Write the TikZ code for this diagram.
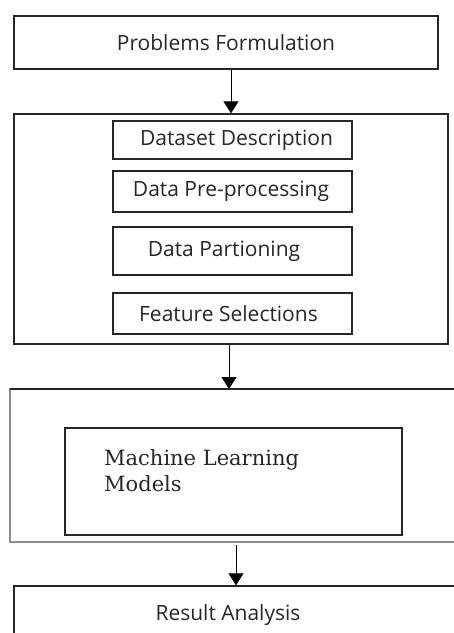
\documentclass[tikz,border=0pt]{standalone}
\usepackage{fontspec}
\setmainfont{Open Sans}
\newfontfamily\mlfont{DejaVu Serif}
\usetikzlibrary{arrows.meta,calc}

\begin{document}
\begin{tikzpicture}[x=1pt,y=-1pt,
		stage/.style={draw=black!85, line width=1.3pt, inner sep=0pt},
		substage/.style={draw=black!85, line width=1.3pt, inner sep=0pt, minimum width=239pt},
		caption/.style={font=\fontsize{21}{25}\selectfont, text=black!85},
		flow/.style={-{Triangle[width=15pt,length=12pt]}, line width=1pt}]
	\useasboundingbox (0,0) rectangle (454,633);
	\clip (0,0) rectangle (454,633);
	% top stage
	\node [stage, minimum width=424pt, minimum height=53pt] (pf) at (226,42.5) {};
	\node [caption] (pftxt) at (pf.center) {Problems Formulation};
	% data preparation stage
	\node [stage, minimum width=434pt, minimum height=230pt] (prep) at (231,229) {};
	\node [substage, minimum height=38pt] (dd) at (232.5,140) {};
	\node [caption] (ddtxt) at (236.5,140) {Dataset Description};
	\node [substage, minimum height=41pt] (dp) at (232.5,191.5) {};
	\node [caption] (dptxt) at (231,191.5) {Data Pre-processing};
	\node [substage, minimum height=48pt] (dpart) at (232.5,251) {};
	\node [caption] (dparttxt) at (224,251) {Data Partioning};
	\node [substage, minimum height=41pt] (fs) at (232.5,313.5) {};
	\node [caption] (fstxt) at (228.5,313.5) {Feature Selections};
	% model stage
	\draw [black!45, line width=1.3pt] (470,389) -- (10,389) -- (10,542) -- (470,542);
	\draw [black!85, line width=1.3pt] (10,389) -- (470,389);
	\coordinate (mltop) at (231,389);
	\coordinate (mlbot) at (236,545);
	\node [stage, minimum width=337pt, minimum height=107pt] (ml) at (233.5,481.5) {};
	\node [anchor=north west, align=left, inner sep=0pt,
		font=\mlfont\fontsize{21}{26}\selectfont, text=black!85] (mltxt) at (104,449)
		{Machine Learning\\Models};
	% last stage
	\node [stage, minimum width=456pt, minimum height=80pt] (ra) at (242,626) {};
	\node [caption] (ratxt) at (228,615) {Result Analysis};
	% connectors
	\draw [flow] (pf.south -| prep.north) -- (prep.north);
	\draw [flow] ($(prep.south)+(-2,0)$) -- (mltop -| {$(prep.south)+(-2,0)$});
	\draw [flow] (mlbot) -- (mlbot |- ra.north);
\end{tikzpicture}
\end{document}
